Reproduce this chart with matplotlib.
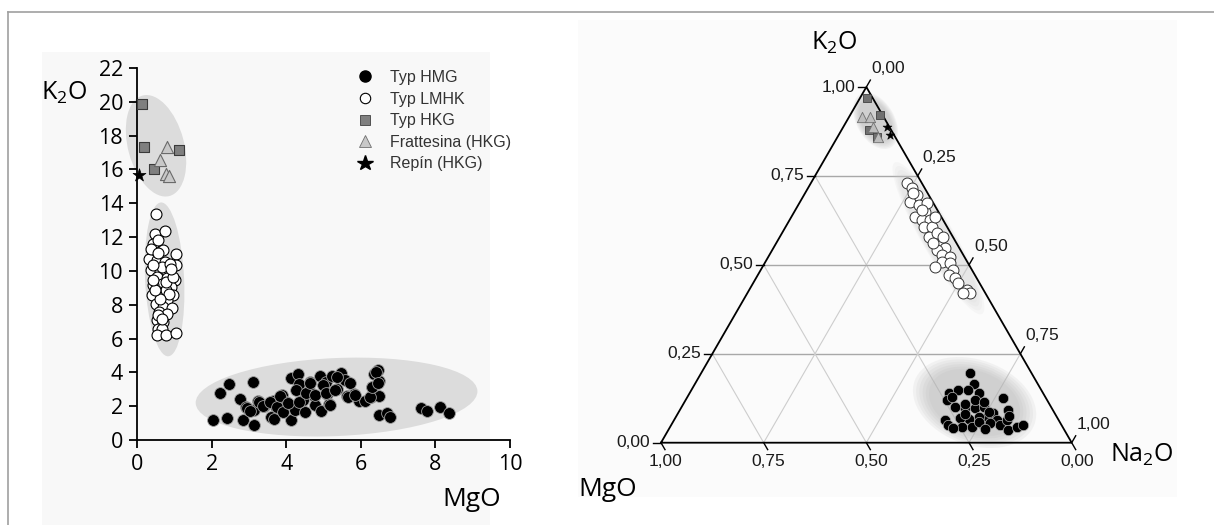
import numpy as np
import matplotlib
matplotlib.use("Agg")
import matplotlib.pyplot as plt
import matplotlib.transforms as mtransforms
from matplotlib.patches import Ellipse, Rectangle
from matplotlib.lines import Line2D
from matplotlib.font_manager import FontProperties

# ---------------- left panel data (wt. %) ----------------
hmg_mgo = [2.03, 2.22, 2.46, 2.42, 2.75, 2.84, 3.10, 3.15, 2.92, 3.15, 3.25, 3.40, 3.64, 3.73,
           3.59, 3.68, 3.88, 4.00, 4.14, 4.14, 4.31, 4.34, 4.26, 4.24, 4.45, 4.50, 4.64, 4.74,
           4.78, 4.64, 4.91, 4.93, 5.07, 5.10, 5.16, 5.22, 5.36, 5.48, 5.57, 5.63, 5.82, 5.96,
           6.10, 6.27, 6.29, 6.35, 6.46, 6.48, 6.50, 6.48, 6.70, 6.77, 7.61, 7.77, 8.13, 8.37,
           2.94, 3.03, 3.28, 3.38, 3.56, 3.74, 3.83, 3.92, 4.05, 4.35, 4.54, 4.65, 4.77, 4.99,
           5.08, 5.17, 5.30, 5.35, 5.66, 5.71, 5.84, 6.24, 6.30, 6.41, 6.46]
hmg_k2o = [1.21, 2.77, 3.32, 1.28, 2.43, 1.21, 3.42, 0.91, 1.94, 1.78, 2.33, 2.04, 2.33, 1.98,
           1.34, 1.25, 2.69, 2.23, 1.19, 3.68, 3.91, 3.32, 2.93, 1.78, 2.37, 1.64, 3.42, 2.63,
           2.09, 2.83, 3.81, 1.70, 3.42, 2.73, 2.13, 3.81, 3.02, 3.95, 3.56, 2.63, 2.73, 2.33,
           2.33, 2.57, 3.16, 3.91, 4.15, 3.48, 2.63, 1.50, 1.58, 1.38, 1.90, 1.74, 1.94, 1.58,
           1.87, 1.74, 2.27, 2.01, 2.27, 1.97, 2.60, 1.68, 2.21, 2.27, 2.76, 3.35, 2.66, 3.25,
           2.76, 2.07, 2.96, 3.75, 2.56, 3.35, 2.66, 2.56, 3.16, 4.04, 3.35]

lmhk_mgo = [0.50, 0.48, 0.74, 0.43, 0.70, 0.50, 1.04, 0.33, 0.53, 0.74, 1.04, 0.38, 0.62, 0.81,
            0.53, 1.03, 0.81, 0.67, 0.43, 0.91, 0.59, 0.41, 0.70, 0.96, 0.81, 0.50, 0.70, 0.95,
            0.59, 0.81, 0.53, 0.70, 0.57, 0.67, 0.53, 0.79, 1.04, 0.38, 0.57, 0.67, 0.89, 0.43,
            0.77, 0.86, 0.62, 0.48, 0.57, 0.67, 0.43, 0.77, 0.96, 0.57, 0.91]
lmhk_k2o = [13.36, 12.21, 12.37, 11.62, 11.26, 11.03, 10.99, 10.73, 10.63, 10.53, 10.34, 10.08,
            10.00, 9.88, 9.64, 9.45, 9.60, 9.25, 9.15, 9.05, 8.75, 8.56, 8.56, 8.56, 8.26, 8.02,
            7.87, 7.83, 7.57, 7.47, 7.08, 6.98, 6.58, 6.58, 6.19, 6.23, 6.34, 11.32, 11.82, 10.24,
            10.43, 10.34, 8.85, 8.66, 8.36, 8.85, 7.37, 7.17, 9.45, 9.35, 9.64, 11.03, 10.14]

hkg_mgo = [0.14, 0.19, 0.46, 1.12]
hkg_k2o = [19.86, 17.35, 16.05, 17.15]
frat_mgo = [0.81, 0.62, 0.77, 0.86]
frat_k2o = [17.35, 16.58, 15.72, 15.62]
repin_mgo = [0.06]
repin_k2o = [15.70]

x_ticks = [0, 2, 4, 6, 8, 10]
y_ticks = [0, 2, 4, 6, 8, 10, 12, 14, 16, 18, 20, 22]
legend_labels = ["Typ HMG", "Typ LMHK", "Typ HKG", "Frattesina (HKG)", "Repín (HKG)"]

# ---------------- ternary data (fractions MgO, K2O, Na2O) ----------------
t_hmg_k2o = [0.195, 0.165, 0.141, 0.148, 0.148, 0.139, 0.120, 0.101, 0.097, 0.097, 0.101, 0.125,
             0.092, 0.083, 0.073, 0.071, 0.066, 0.069, 0.064, 0.050, 0.043, 0.043, 0.047, 0.064,
             0.050, 0.064, 0.036, 0.043, 0.050, 0.055, 0.129, 0.120, 0.087, 0.110, 0.080, 0.058,
             0.115, 0.075, 0.038, 0.040]
t_hmg_na2o = [0.655, 0.680, 0.630, 0.650, 0.674, 0.706, 0.636, 0.666, 0.692, 0.717, 0.735, 0.770,
              0.800, 0.768, 0.757, 0.738, 0.718, 0.694, 0.660, 0.675, 0.711, 0.736, 0.762, 0.785,
              0.800, 0.810, 0.828, 0.845, 0.857, 0.774, 0.644, 0.705, 0.754, 0.685, 0.700, 0.745,
              0.730, 0.810, 0.770, 0.690]
t_hmg_mgo = [0.150, 0.155, 0.229, 0.202, 0.178, 0.155, 0.244, 0.233, 0.211, 0.186, 0.164, 0.105,
             0.108, 0.149, 0.170, 0.191, 0.216, 0.237, 0.276, 0.275, 0.246, 0.221, 0.191, 0.151,
             0.150, 0.126, 0.136, 0.112, 0.093, 0.171, 0.227, 0.175, 0.159, 0.205, 0.220, 0.197,
             0.155, 0.115, 0.192, 0.270]

t_lmhk_k2o = [0.729, 0.715, 0.696, 0.678, 0.668, 0.649, 0.635, 0.626, 0.626, 0.607, 0.607, 0.579,
              0.589, 0.556, 0.547, 0.542, 0.528, 0.523, 0.509, 0.504, 0.495, 0.486, 0.471, 0.462,
              0.448, 0.429, 0.420, 0.420, 0.701, 0.673, 0.654, 0.635, 0.579, 0.561]
t_lmhk_na2o = [0.234, 0.253, 0.275, 0.267, 0.293, 0.319, 0.302, 0.322, 0.342, 0.336, 0.356, 0.362,
               0.377, 0.401, 0.419, 0.400, 0.420, 0.443, 0.430, 0.452, 0.420, 0.469, 0.465, 0.485,
               0.500, 0.531, 0.543, 0.526, 0.264, 0.311, 0.308, 0.350, 0.398, 0.383]
t_lmhk_mgo = [0.037, 0.032, 0.029, 0.055, 0.039, 0.032, 0.063, 0.052, 0.032, 0.057, 0.037, 0.059,
              0.034, 0.043, 0.034, 0.058, 0.052, 0.034, 0.061, 0.044, 0.085, 0.045, 0.064, 0.053,
              0.052, 0.040, 0.037, 0.054, 0.035, 0.016, 0.038, 0.015, 0.023, 0.056]

t_hkg_k2o = [0.968, 0.921, 0.879, 0.859]
t_hkg_na2o = [0.017, 0.072, 0.066, 0.096]
t_hkg_mgo = [0.015, 0.007, 0.055, 0.045]
t_frat_k2o = [0.917, 0.917, 0.888, 0.860]
t_frat_na2o = [0.031, 0.051, 0.073, 0.099]
t_frat_mgo = [0.052, 0.032, 0.039, 0.041]
t_repin_k2o = [0.888, 0.865]
t_repin_na2o = [0.106, 0.126]
t_repin_mgo = [0.006, 0.009]

tern_ticks = [0.0, 0.25, 0.5, 0.75, 1.0]
tern_labels = ["0,00", "0,25", "0,50", "0,75", "1,00"]

# ---------------- figure ----------------
W, H = 1214, 525
plt.rcParams['font.family'] = ['Open Sans', 'DejaVu Sans']
plt.rcParams['mathtext.fontset'] = 'custom'
plt.rcParams['mathtext.rm'] = 'Open Sans'
plt.rcParams['mathtext.it'] = 'Open Sans'
fig = plt.figure(figsize=(W / 100, H / 100), dpi=100)

# outer frame lines and faint backgrounds
fig.add_artist(Line2D([7.5 / W, 1], [1 - 11.5 / H, 1 - 11.5 / H], transform=fig.transFigure,
                      color='#a0a0a0', lw=1.2))
fig.add_artist(Line2D([7.5 / W, 7.5 / W], [0, 1 - 11.5 / H], transform=fig.transFigure,
                      color='#a0a0a0', lw=1.2))
fig.add_artist(Rectangle((42 / W, 0), (490 - 42) / W, 1 - 52 / H, transform=fig.transFigure,
                         facecolor='#f8f8f8', edgecolor='none', zorder=-5))
fig.add_artist(Rectangle((578 / W, 1 - 497 / H), (1177 - 578) / W, (497 - 20) / H,
                         transform=fig.transFigure, facecolor='#fbfbfb', edgecolor='none',
                         zorder=-5))


def px_axes(x0, y0, x1, y1):
    return fig.add_axes([x0 / W, 1 - y1 / H, (x1 - x0) / W, (y1 - y0) / H])


# ---------------- left scatter ----------------
ax = px_axes(137, 68, 510, 440)
ax.patch.set_visible(False)
ax.set_xlim(0, 10)
ax.set_ylim(0, 22)
ax.spines['top'].set_visible(False)
ax.spines['right'].set_visible(False)
for s in ('left', 'bottom'):
    ax.spines[s].set_linewidth(1.3)
ax.set_xticks(x_ticks)
ax.set_yticks(y_ticks)
ax.tick_params(direction='out', length=6, width=1.3, labelsize=15.5, pad=4, colors='black')


def px_ellipse(axis, cx, cy, w_px, h_px, angle, color):
    tr = fig.dpi_scale_trans + mtransforms.ScaledTranslation(cx, cy, axis.transData)
    e = Ellipse((0, 0), w_px / 100, h_px / 100, angle=angle, transform=tr,
                facecolor=color, edgecolor='none', zorder=1, clip_on=False)
    axis.add_artist(e)


px_ellipse(ax, 0.51, 17.4, 104, 56, 105, '#dcdcdc')
px_ellipse(ax, 0.74, 9.5, 154, 39, 92.7, '#dcdcdc')
px_ellipse(ax, 5.35, 2.54, 282, 78, 2.5, '#dcdcdc')

ax.scatter(hmg_mgo, hmg_k2o, s=72, c='black', edgecolors='#a0a0a0', linewidths=0.6,
           zorder=3, clip_on=False)
ax.scatter(lmhk_mgo, lmhk_k2o, s=62, c='white', edgecolors='black', linewidths=0.8,
           zorder=3, clip_on=False)
ax.scatter(hkg_mgo, hkg_k2o, s=46, marker='s', c='#7f7f7f', edgecolors='#3a3a3a',
           linewidths=0.8, zorder=3, clip_on=False)
ax.scatter(frat_mgo, frat_k2o, s=76, marker='^', c='#c8c8c8', edgecolors='#6a6a6a',
           linewidths=0.8, zorder=3, clip_on=False)
ax.scatter(repin_mgo, repin_k2o, s=95, marker='*', c='black', edgecolors='black',
           linewidths=0.5, zorder=4, clip_on=False)

handles = [
    Line2D([], [], ls='none', marker='o', mfc='black', mec='black', ms=8),
    Line2D([], [], ls='none', marker='o', mfc='white', mec='black', mew=0.8, ms=7.5),
    Line2D([], [], ls='none', marker='s', mfc='#808080', mec='#404040', mew=0.6, ms=6.5),
    Line2D([], [], ls='none', marker='^', mfc='#c8c8c8', mec='#707070', mew=0.6, ms=8.5),
    Line2D([], [], ls='none', marker='*', mfc='black', mec='black', ms=11.5),
]
ax.legend(handles, legend_labels, loc='upper left', bbox_to_anchor=(357 / W, 1 - 70 / H),
          bbox_transform=fig.transFigure, frameon=False,
          prop=FontProperties(family='Liberation Sans', size=11.5), handlelength=1.0,
          handletextpad=1.05, labelspacing=0.41, borderpad=0, borderaxespad=0,
          labelcolor='#333333')

fig.text(64 / W, 1 - 93 / H, r"K$_{\mathregular{2}}$O", fontsize=18, ha='center', va='center')
fig.text(472 / W, 1 - 500 / H, "MgO", fontsize=19, ha='center', va='center')

# ---------------- ternary ----------------
T_X0, T_Y0, T_S = 661.0, 442.7, 410.7   # pixel position of MgO corner, side length in px
tax = fig.add_axes([560 / W, 0, 654 / W, 1])
tax.set_xlim((560 - T_X0) / T_S, (1214 - T_X0) / T_S)
tax.set_ylim(-(H - T_Y0) / T_S, T_Y0 / T_S)
tax.axis('off')
h3 = np.sqrt(3) / 2


def tern(mg, k, na):
    mg, k, na = np.asarray(mg, float), np.asarray(k, float), np.asarray(na, float)
    tot = mg + k + na
    return (na + k / 2) / tot, k * h3 / tot


# grid
for t in tern_ticks[1:-1]:
    tax.plot([t / 2, 1 - t / 2], [t * h3, t * h3], color='#a8a8a8', lw=1.0, zorder=1)
    tax.plot([1 - t, (1 - t) / 2], [0, (1 - t) * h3], color='#cdcdcd', lw=0.8, zorder=1)
    tax.plot([t, t + (1 - t) / 2], [0, (1 - t) * h3], color='#cdcdcd', lw=0.8, zorder=1)


# blurred cluster halos
def blob(k, na, w, h, ang, color, alpha, layers=6):
    u, v = tern(1 - k - na, k, na)
    for i in range(layers):
        f = 1.15 - 0.06 * i
        tax.add_patch(Ellipse((float(u), float(v)), w * f, h * f, angle=ang, facecolor=color,
                              edgecolor='none', alpha=alpha, zorder=2))


blob(0.113, 0.707, 0.27, 0.18, -20, '#b0b0b0', 0.12)
blob(0.905, 0.070, 0.13, 0.08, -60, '#b0b0b0', 0.12)
blob(0.575, 0.388, 0.37, 0.07, -60, '#c8c8c8', 0.11, layers=4)

# triangle frame
tax.plot([0, 1, 0.5, 0], [0, 0, h3, 0], color='black', lw=1.3, zorder=3, solid_joinstyle='miter')

L = 8 / T_S
fp = dict(family='Liberation Sans', fontsize=12.5, color='#1a1a1a')
for t, lab in zip(tern_ticks, tern_labels):
    # K2O (left)
    u, v = t / 2, t * h3
    tax.plot([u, u - L], [v, v], color='black', lw=1.0, zorder=3, clip_on=False)
    tax.text(u - L - 3 / T_S, v, lab, ha='right', va='center', **fp)
    # Na2O (right)
    u, v = (1 + t) / 2, (1 - t) * h3
    tax.plot([u, u + 0.5 * L], [v, v + h3 * L], color='black', lw=1.0, zorder=3, clip_on=False)
    tax.text(u + 0.5 * L + 1 / T_S, v + h3 * L + 4 / T_S, lab, ha='left', va='bottom', **fp)
    # MgO (bottom)
    u, v = 1 - t, 0
    tax.plot([u, u + 0.5 * L], [v, v - h3 * L], color='black', lw=1.0, zorder=3, clip_on=False)
    tax.text(u + 0.5 * L + 1 / T_S, v - h3 * L - 4 / T_S, lab, ha='center', va='top', **fp)

u, v = tern(t_hmg_mgo, t_hmg_k2o, t_hmg_na2o)
tax.scatter(u, v, s=56, c='black', edgecolors='#b5b5b5', linewidths=0.5, zorder=5)
u, v = tern(t_lmhk_mgo, t_lmhk_k2o, t_lmhk_na2o)
tax.scatter(u, v, s=62, c='white', edgecolors='#333333', linewidths=0.7, zorder=5)
u, v = tern(t_hkg_mgo, t_hkg_k2o, t_hkg_na2o)
tax.scatter(u, v, s=34, marker='s', c='#707070', edgecolors='#404040', linewidths=0.6, zorder=5)
u, v = tern(t_frat_mgo, t_frat_k2o, t_frat_na2o)
tax.scatter(u, v, s=55, marker='^', c='#bdbdbd', edgecolors='#707070', linewidths=0.6, zorder=5)
u, v = tern(t_repin_mgo, t_repin_k2o, t_repin_na2o)
tax.scatter(u, v, s=45, marker='*', c='black', edgecolors='black', linewidths=0.4, zorder=6)

fig.text(834 / W, 1 - 43 / H, r"K$_{\mathregular{2}}$O", fontsize=18, ha='center', va='center')
fig.text(608 / W, 1 - 490 / H, "MgO", fontsize=19, ha='center', va='center')
fig.text(1142 / W, 1 - 455 / H, r"Na$_{\mathregular{2}}$O", fontsize=18, ha='center',
         va='center')

fig.savefig("out.png", dpi=100)
